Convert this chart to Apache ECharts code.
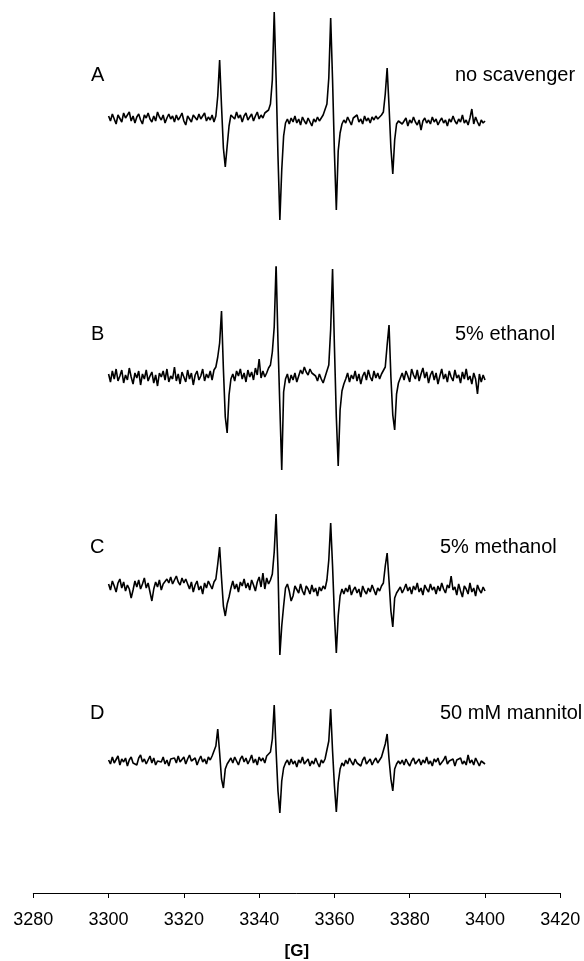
<!DOCTYPE html>
<html>
<head>
<meta charset="utf-8">
<script src="https://cdn.jsdelivr.net/npm/echarts@6/dist/echarts.min.js"></script>
<style>
  html, body { margin: 0; padding: 0; background: #fff; }
  #chart { width: 584px; height: 961px; }
</style>
</head>
<body>
<div id="chart"></div>
<script>
// field sweep, in gauss
const fieldStart = 3300;
const fieldStep = 0.5;
const axisMin = 3280;
const axisMax = 3420;
const axisInterval = 20;

const panelLetters = ["A", "B", "C", "D"];
const panelLabels = ["no scavenger", "5% ethanol", "5% methanol", "50 mM mannitol"];

// signal, arbitrary units, one value per fieldStep
const traceA = [
  2, -3, 4, -1, -6, 3, 1, -4, 5, 0,
  -2, 6, -3, 2, -5, 1, 4, -2, -6, 3,
  0, 5, -1, -4, 2, -3, 6, 1, -2, 3,
  -5, 0, 4, -1, 2, -4, 3, -2, 1, 5,
  -3, -7, 2, 0, -4, 3, 1, -2, 4, -1,
  2, 5, -3, 1, -2, 3, -4, 2, 22, 58,
  12, -30, -49, -28, -8, 3, 4, -1, 6, 0,
  3, -4, 2, 5, -2, 1, 4, -3, 2, 6,
  -1, 3, 0, 5, 6, 8, 14, 38, 106, 40,
  -38, -102, -52, -18, -5, -1, -6, 0, -4, 2,
  -5, -1, -7, 1, -3, -6, 0, -2, -8, -1,
  -4, 1, -3, 0, 3, 5, 14, 40, 100, 38,
  -35, -92, -33, -15, -6, -2, -5, 1, -3, -7,
  0, -2, 3, -4, -1, -6, 2, -3, 0, -5,
  1, -2, 2, -1, 1, 3, 6, 24, 50, 12,
  -30, -56, -22, -6, -3, -1, -6, -3, 0, -8,
  -2, -5, 1, -4, -7, -2, -12, -3, 0, -5,
  -2, -6, 1, -4, -1, -7, -3, 0, -5, -2,
  -8, -1, -4, 2, -3, -6, -1, -4, 3, -5,
  -2, -7, 0, 9, -6, 1, -4, -8, -2, -5,
  -3
];
const traceB = [
  3, -5, 6, -2, 8, -4, 1, 7, -6, 2,
  -3, 9, 0, -7, 4, -1, 6, -8, 3, -2,
  7, -4, 1, 5, -6, 2, -9, 4, 0, 6,
  -3, 8, -5, 1, -2, 10, -4, 3, -7, 5,
  0, -5, 7, -2, 4, -8, 2, 6, -3, 1,
  8, -4, 3, -1, 6, -3, 7, 10, 20, 34,
  66, 8, -40, -56, -18, -2, 3, -4, 6, 1,
  8, -2, 4, -5, 7, 0, 5, -3, 9, 2,
  18, -1, 6, 0, 4, 9, 12, 25, 50, 113,
  35, -30, -93, -15, -2, 3, -6, 2, -3, 4,
  -5, 1, 7, 3, 10, 5, 2, 8, 4, 6,
  1, -4, 3, -2, -6, 0, 2, 12, 48, 108,
  30, -40, -89, -33, -14, -7, -2, 4, -5, 2,
  -2, 6, -4, 3, -7, 1, 5, -3, 7, 0,
  -4, 6, -1, 4, -2, 3, 5, 10, 32, 52,
  0, -38, -53, -17, -6, -1, 4, -3, 6, 1,
  -5, 8, 2, -2, 7, -4, 3, 9, -1, 5,
  -6, 2, 6, -3, 4, -7, 1, 8, -2, 3,
  -5, 6, 0, -4, 7, -1, 2, -6, 5, -2,
  8, -3, 1, -7, 4, -2, -17, 3, -5, 2,
  -3
];
const traceC = [
  2, -4, 5, 0, -6, 3, 7, -2, 4, -5,
  1, -3, -12, -4, 5, -1, 6, -3, 2, 8,
  -2, 3, -6, -15, -3, 4, -1, 6, -4, 2,
  0, 7, 3, 9, 2, 6, 10, 4, 1, 8,
  3, 7, 2, -3, 4, -6, 1, 5, -4, 0,
  -8, 3, -2, 5, 1, -3, 4, 7, 22, 39,
  8, -20, -30, -18, -11, -2, 5, -3, 2, -6,
  4, 0, 7, -2, 3, -4, 6, 1, -5, 4,
  9, -1, 13, -3, 8, 2, 6, 12, 34, 72,
  18, -69, -40, -20, -2, 2, -5, -15, -10, 0,
  -1, -7, 2, -5, -9, 0, -3, -8, 1, -6,
  -2, -10, -1, -5, 0, -3, 6, 26, 63, 20,
  -30, -67, -30, -10, -3, -8, -2, -6, 1, -9,
  -4, -1, -7, -3, -11, 0, -5, -8, -2, -6,
  1, -4, -9, -2, -5, 0, 3, 20, 33, 5,
  -25, -41, -12, -7, -4, -1, -7, -3, 2, -5,
  -1, -8, 0, -4, 3, -6, -2, -9, 1, -3,
  -6, 2, -4, -1, -8, 0, -5, 3, -3, -7,
  1, -2, 10, -4, -1, -9, 2, -5, -11, 0,
  -3, -8, 3, -6, -2, -10, 1, -4, -7, -1,
  -5
];
const traceD = [
  1, -3, 4, -2, 0, 5, -4, 2, -1, 3,
  -5, 1, 4, -2, 0, -4, 3, 6, -1, 2,
  -3, 1, 5, -2, 3, -4, 0, 2, -1, 4,
  -3, 1, -5, 2, 0, 3, -2, 5, -1, 1,
  4, -3, 2, 6, 0, -2, 3, -4, 1, 5,
  -1, 2, -3, 4, 1, 5, 6, 15, 32, 8,
  -18, -27, -8, -3, 0, 3, -2, 4, 0, -4,
  2, 5, -1, 3, -3, 1, 6, -2, 2, -4,
  4, 0, 3, -2, 5, 6, 9, 22, 56, 10,
  -30, -52, -20, -7, -2, 1, -4, 2, -3, 0,
  -6, 1, -2, 4, -3, -1, 2, -5, 0, -3,
  3, -2, -6, 1, -2, 2, 4, 20, 52, 10,
  -25, -51, -22, -8, -2, -5, 1, -3, 3, -1,
  -4, 2, -2, 0, -5, 1, 4, -3, -1, 2,
  -4, 0, 3, -2, 1, 4, 5, 17, 27, 2,
  -18, -30, -8, -3, 0, -3, 1, -4, 2, -2,
  -5, 0, 3, -3, -1, 2, -4, 1, -2, 4,
  -3, 0, -5, 2, -1, 3, -4, -2, 1, 5,
  -3, 0, -2, 2, -5, 1, -1, 3, -3, 0,
  -4, 6, -2, 1, -4, 3, -1, -5, 0, -2,
  -3
];

const traces = [traceA, traceB, traceC, traceD];

// layout (pixels)
const baselines = [118, 377, 586, 761];
const labelBaselineY = [72, 330.5, 543.5, 709.5];
const labelLeftX = [455, 455, 440, 440];
const letterLeftX = [91, 91, 90, 90];
const span = 110;
const plotLeft = 33.3;
const plotRight = 584 - 560.3;
const fontFamily = "'Liberation Sans', Arial, Helvetica, sans-serif";

const grids = [];
const xAxes = [];
const yAxes = [];
const series = [];
const graphics = [];

traces.forEach(function (trace, k) {
    grids.push({
        left: plotLeft,
        right: plotRight,
        top: baselines[k] - span,
        height: span * 2
    });
    xAxes.push({
        type: "value",
        gridIndex: k,
        min: axisMin,
        max: axisMax,
        show: false
    });
    yAxes.push({
        type: "value",
        gridIndex: k,
        min: -span,
        max: span,
        show: false
    });
    series.push({
        type: "line",
        xAxisIndex: k,
        yAxisIndex: k,
        data: trace.map(function (v, i) {
            return [fieldStart + i * fieldStep, v];
        }),
        showSymbol: false,
        symbol: "none",
        lineStyle: { color: "#000", width: 1.6 },
        silent: true
    });
    graphics.push({
        type: "text",
        left: letterLeftX[k],
        top: labelBaselineY[k] - 6.2,
        style: {
            text: panelLetters[k],
            font: "20px " + fontFamily,
            fill: "#000",
            verticalAlign: "middle"
        }
    });
    graphics.push({
        type: "text",
        left: labelLeftX[k],
        top: labelBaselineY[k] - 6.2,
        style: {
            text: panelLabels[k],
            font: "20px " + fontFamily,
            fill: "#000",
            verticalAlign: "middle"
        }
    });
});

// bottom axis only
grids.push({ left: plotLeft, right: plotRight, top: 880, height: 13 });
xAxes.push({
    type: "value",
    gridIndex: 4,
    min: axisMin,
    max: axisMax,
    interval: axisInterval,
    position: "bottom",
    name: "[G]",
    nameLocation: "middle",
    nameGap: 50,
    nameTextStyle: {
        color: "#000",
        fontSize: 17,
        fontWeight: "bold",
        fontFamily: fontFamily
    },
    axisLine: { show: true, onZero: false, lineStyle: { color: "#000", width: 1 } },
    axisTick: { show: true, inside: false, length: 5, lineStyle: { color: "#000", width: 1 } },
    axisLabel: {
        show: true,
        margin: 18,
        color: "#000",
        fontSize: 18,
        fontFamily: fontFamily,
        showMinLabel: true,
        showMaxLabel: true,
        formatter: function (value) {
            return String(value);
        }
    },
    splitLine: { show: false }
});
yAxes.push({ type: "value", gridIndex: 4, min: 0, max: 1, show: false });
series.push({ type: "line", xAxisIndex: 4, yAxisIndex: 4, data: [] });

const chart = echarts.init(document.getElementById("chart"), null, { renderer: "canvas" });
chart.setOption({
    animation: false,
    backgroundColor: "#fff",
    grid: grids,
    xAxis: xAxes,
    yAxis: yAxes,
    series: series,
    graphic: graphics
});
</script>
</body>
</html>
